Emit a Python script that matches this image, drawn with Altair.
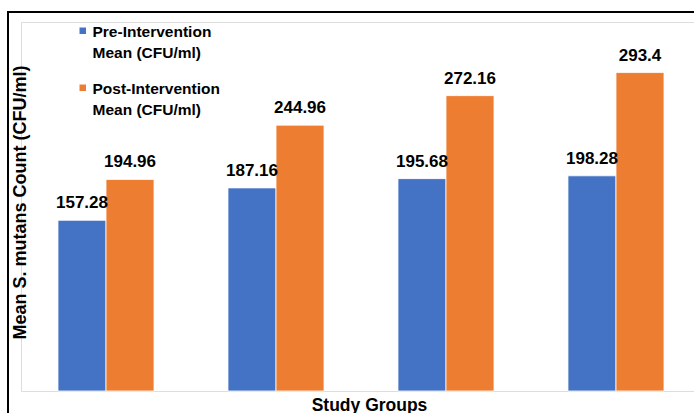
import altair as alt
import pandas as pd

groups = ["Group 1", "Group 2", "Group 3", "Group 4"]
series = ["Pre-Intervention Mean (CFU/ml)", "Post-Intervention Mean (CFU/ml)"]
pre_values = [157.28, 187.16, 195.68, 198.28]
post_values = [194.96, 244.96, 272.16, 293.4]
colors = ["#4472C4", "#ED7D31"]

rows = []
for g, a, b in zip(groups, pre_values, post_values):
    rows.append({"group": g, "series": series[0], "value": a})
    rows.append({"group": g, "series": series[1], "value": b})
df = pd.DataFrame(rows)

FONT = "Liberation Sans"

base = alt.Chart(df).transform_calculate(label="'' + datum.value").encode(
    x=alt.X(
        "group:N",
        sort=groups,
        scale=alt.Scale(range=[0, 680], paddingInner=0.435, paddingOuter=0.2176),
        axis=alt.Axis(
            labels=False, ticks=False, domain=False, grid=False,
            title="Study Groups", titleFont=FONT, titleFontSize=17.5,
            titleFontWeight="bold", titleColor="black", titleX=348,
            titlePadding=5,
        ),
    ),
    xOffset=alt.XOffset("series:N", sort=series,
                        scale=alt.Scale(paddingInner=0, paddingOuter=0)),
    y=alt.Y(
        "value:Q",
        scale=alt.Scale(domain=[0, 340]),
        axis=alt.Axis(
            labels=False, ticks=False, domain=False, grid=False,
            title="Mean S. mutans Count (CFU/ml)", titleFont=FONT,
            titleFontSize=18, titleFontWeight="bold", titleColor="black",
            titleX=-1, titleY=180, titleBaseline="middle", titleAlign="center",
            titleAngle=270,
        ),
    ),
)

bars = base.mark_bar(stroke="white", strokeWidth=0.8).encode(
    color=alt.Color(
        "series:N",
        sort=series,
        scale=alt.Scale(domain=series, range=colors),
        legend=alt.Legend(
            orient="none", legendX=54, legendY=1, title=None,
            symbolType="square", symbolSize=42, symbolStrokeWidth=0,
            labelFont=FONT, labelFontSize=15.5, labelFontWeight="bold",
            labelColor="black", labelLimit=300, labelOffset=2,
            labelExpr="[split(datum.label, ' ')[0], 'Mean (CFU/ml)']",
            rowPadding=18, padding=0,
        ),
    )
)

text = base.mark_text(
    dy=-12, baseline="alphabetic", fontSize=17, fontWeight="bold",
    font=FONT, color="black",
).encode(text=alt.Text("label:N"))

border_df = pd.DataFrame({"k": [0]})
frame = alt.Chart(border_df).mark_rect(
    fill=None, stroke="black", strokeWidth=2
).encode(
    x=alt.value(-13), x2=alt.value(740), y=alt.value(-10), y2=alt.value(460)
)

chart = alt.layer(bars, text, frame).properties(
    width=673, height=369,
    autosize=alt.AutoSizeParams(type="none"),
    padding={"left": 21, "top": 22, "right": 0, "bottom": 22},
).configure_view(stroke=None).configure(
    background="white",
    style={"guide-label": {"lineHeight": 21, "dy": 1.5}},
)

chart.save("out.html", embed_options={"renderer": "svg", "actions": False})
